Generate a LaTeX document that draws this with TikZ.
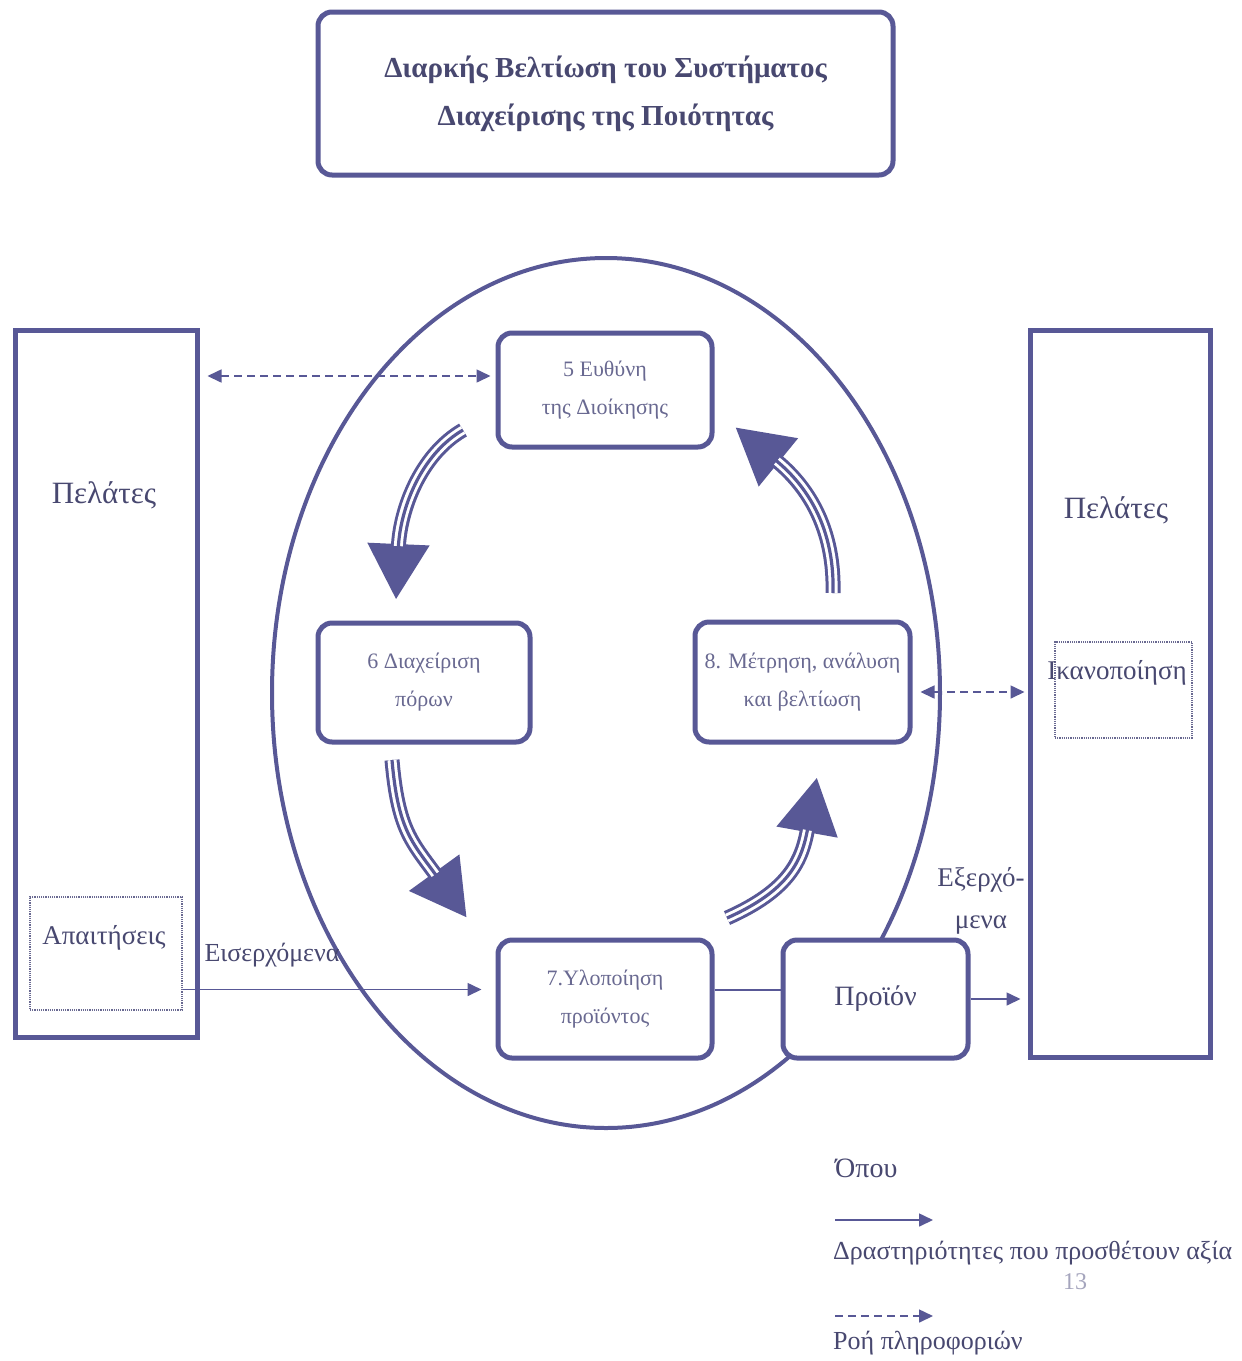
\documentclass[tikz,border=0pt]{standalone}
\usepackage{fontspec}
\setmainfont{Liberation Serif}
\usetikzlibrary{arrows.meta}
\definecolor{mc}{RGB}{88,88,150}
\definecolor{tc}{RGB}{72,72,112}
\definecolor{lc}{RGB}{105,105,145}
\begin{document}
\begin{tikzpicture}[x=1pt,y=-1pt,
  rbox/.style={draw=mc, line width=5pt, rounded corners=14pt, fill=white, text=lc, align=center, inner sep=0pt},
  cbox/.style={draw=mc, line width=5pt, fill=none, inner sep=0pt},
  dotbox/.style={draw=lc, densely dotted, line width=1.2pt, inner sep=0pt},
  lbl/.style={text=tc, inner sep=0pt},
  flow/.style={draw=mc, line width=1.6pt, -{Triangle[length=14pt,width=13pt]}},
  info/.style={draw=mc, line width=1.6pt, dash pattern=on 8pt off 5pt, -{Triangle[length=14pt,width=13pt]}},
  infob/.style={draw=mc, line width=1.6pt, dash pattern=on 8pt off 5pt, {Triangle[length=14pt,width=13pt]}-{Triangle[length=14pt,width=13pt]}},
  bigarrow/.style={draw=mc, line width=15pt, -{Triangle[length=56pt,width=58pt]},
     postaction={draw=white, line width=9pt, -, shorten >=54pt},
     postaction={draw=mc, line width=3.2pt, -, shorten >=52pt}}
]
\useasboundingbox (0,0) rectangle (1242,1361);
\fill[white] (0,0) rectangle (1242,1361);

% title
\node[rbox, minimum width=575, minimum height=163, text=tc,
      font=\fontsize{29}{48}\selectfont\bfseries] (title) at (605.5,93.5)
  {Διαρκής Βελτίωση του Συστήματος\\Διαχείρισης της Ποιότητας};

% ring
\draw[mc, line width=4pt] (606,693) ellipse [x radius=334, y radius=435];

% customers boxes
\node[cbox, minimum width=182, minimum height=707] (lbox) at (106,683.5) {};
\node[cbox, minimum width=180, minimum height=727] (rbox) at (1120,693.5) {};
\node[lbl, font=\fontsize{31}{36}\selectfont] (lcust) at (104,495) {Πελάτες};
\node[lbl, font=\fontsize{31}{36}\selectfont] (rcust) at (1116,510) {Πελάτες};

\node[dotbox, minimum width=152, minimum height=113] (req) at (106,953.5) {};
\node[lbl, font=\fontsize{27}{30}\selectfont] (reqt) at (104,938) {Απαιτήσεις};
\node[dotbox, minimum width=137, minimum height=96] (sat) at (1123.5,690) {};
\node[lbl, font=\fontsize{27}{30}\selectfont] (satt) at (1117,673) {Ικανοποίηση};

% process boxes
\node[rbox, minimum width=214, minimum height=114, font=\fontsize{22}{38}\selectfont] (b5) at (605,390) {5 Ευθύνη\\της Διοίκησης};
\node[rbox, minimum width=212, minimum height=119, font=\fontsize{22}{38}\selectfont] (b6) at (424,682.5) {6 Διαχείριση\\πόρων};
\node[rbox, minimum width=215, minimum height=120, font=\fontsize{22}{38}\selectfont] (b8) at (802.5,682) {8. Μέτρηση, ανάλυση\\και βελτίωση};
\node[rbox, minimum width=214, minimum height=118, font=\fontsize{22}{38}\selectfont] (b7) at (605,999) {7.Υλοποίηση\\προϊόντος};
\node[rbox, minimum width=185, minimum height=118, text=tc, font=\fontsize{28}{32}\selectfont] (prod) at (875.5,999) {Προϊόν};

% information flows
\coordinate (b5l) at ([yshift=14pt]b5.west);
\draw[infob, shorten <=8pt, shorten >=5pt] (lbox.east |- b5l) -- (b5l);
\coordinate (b8r) at ([yshift=-10pt]b8.east);
\draw[infob, shorten <=8pt, shorten >=3pt] (b8r) -- (rbox.west |- b8r);

% value-adding flows
\coordinate (reqr) at ([yshift=-36pt]req.east);
\draw[flow, shorten >=14pt] (reqr) -- (b7.west |- reqr);
\node[lbl, font=\fontsize{26}{30}\selectfont] (inl) at (272,955) {Εισερχόμενα};
\coordinate (b7r) at ([yshift=9pt]b7.east);
\draw[mc, line width=1.6pt] (b7r) -- (prod.west |- b7r);
\draw[flow, shorten >=7pt] (prod.east) -- (rbox.west |- prod.east);
\node[lbl, font=\fontsize{27}{42}\selectfont, align=center] (outl) at (981,901) {Εξερχό-\\μενα};

% big cycle arrows
\coordinate (a1s) at (463,430); \coordinate (a1e) at (396,600);
\coordinate (a2s) at (392,760); \coordinate (a2e) at (467,918);
\coordinate (a3s) at (727,918); \coordinate (a3e) at (817,777);
\coordinate (a4s) at (833,593); \coordinate (a4e) at (735,427);
\draw[bigarrow] (a1s) .. controls (420,455) and (400,510) .. (a1e);
\draw[bigarrow] (a2s) .. controls (398,830) and (412,842) .. (a2e);
\draw[bigarrow] (a3s) .. controls (790,890) and (802,860) .. (a3e);
\draw[bigarrow] (a4s) .. controls (835,520) and (800,480) .. (a4e);

% legend
\node[lbl, anchor=west, font=\fontsize{28}{32}\selectfont] (where) at (835,1168) {Όπου};
\coordinate (l1s) at (835,1220); \coordinate (l1e) at (933,1220);
\draw[flow] (l1s) -- (l1e);
\node[lbl, anchor=west, font=\fontsize{26}{30}\selectfont] (l1t) at (833,1253) {Δραστηριότητες που προσθέτουν αξία};
\node[text=lc!60, font=\fontsize{24}{28}\selectfont, inner sep=0pt] (pg) at (1075,1282) {13};
\coordinate (l2s) at (835,1316); \coordinate (l2e) at (933,1316);
\draw[info] (l2s) -- (l2e);
\node[lbl, anchor=west, font=\fontsize{26}{30}\selectfont] (l2t) at (833,1343) {Ροή πληροφοριών};
\end{tikzpicture}
\end{document}
